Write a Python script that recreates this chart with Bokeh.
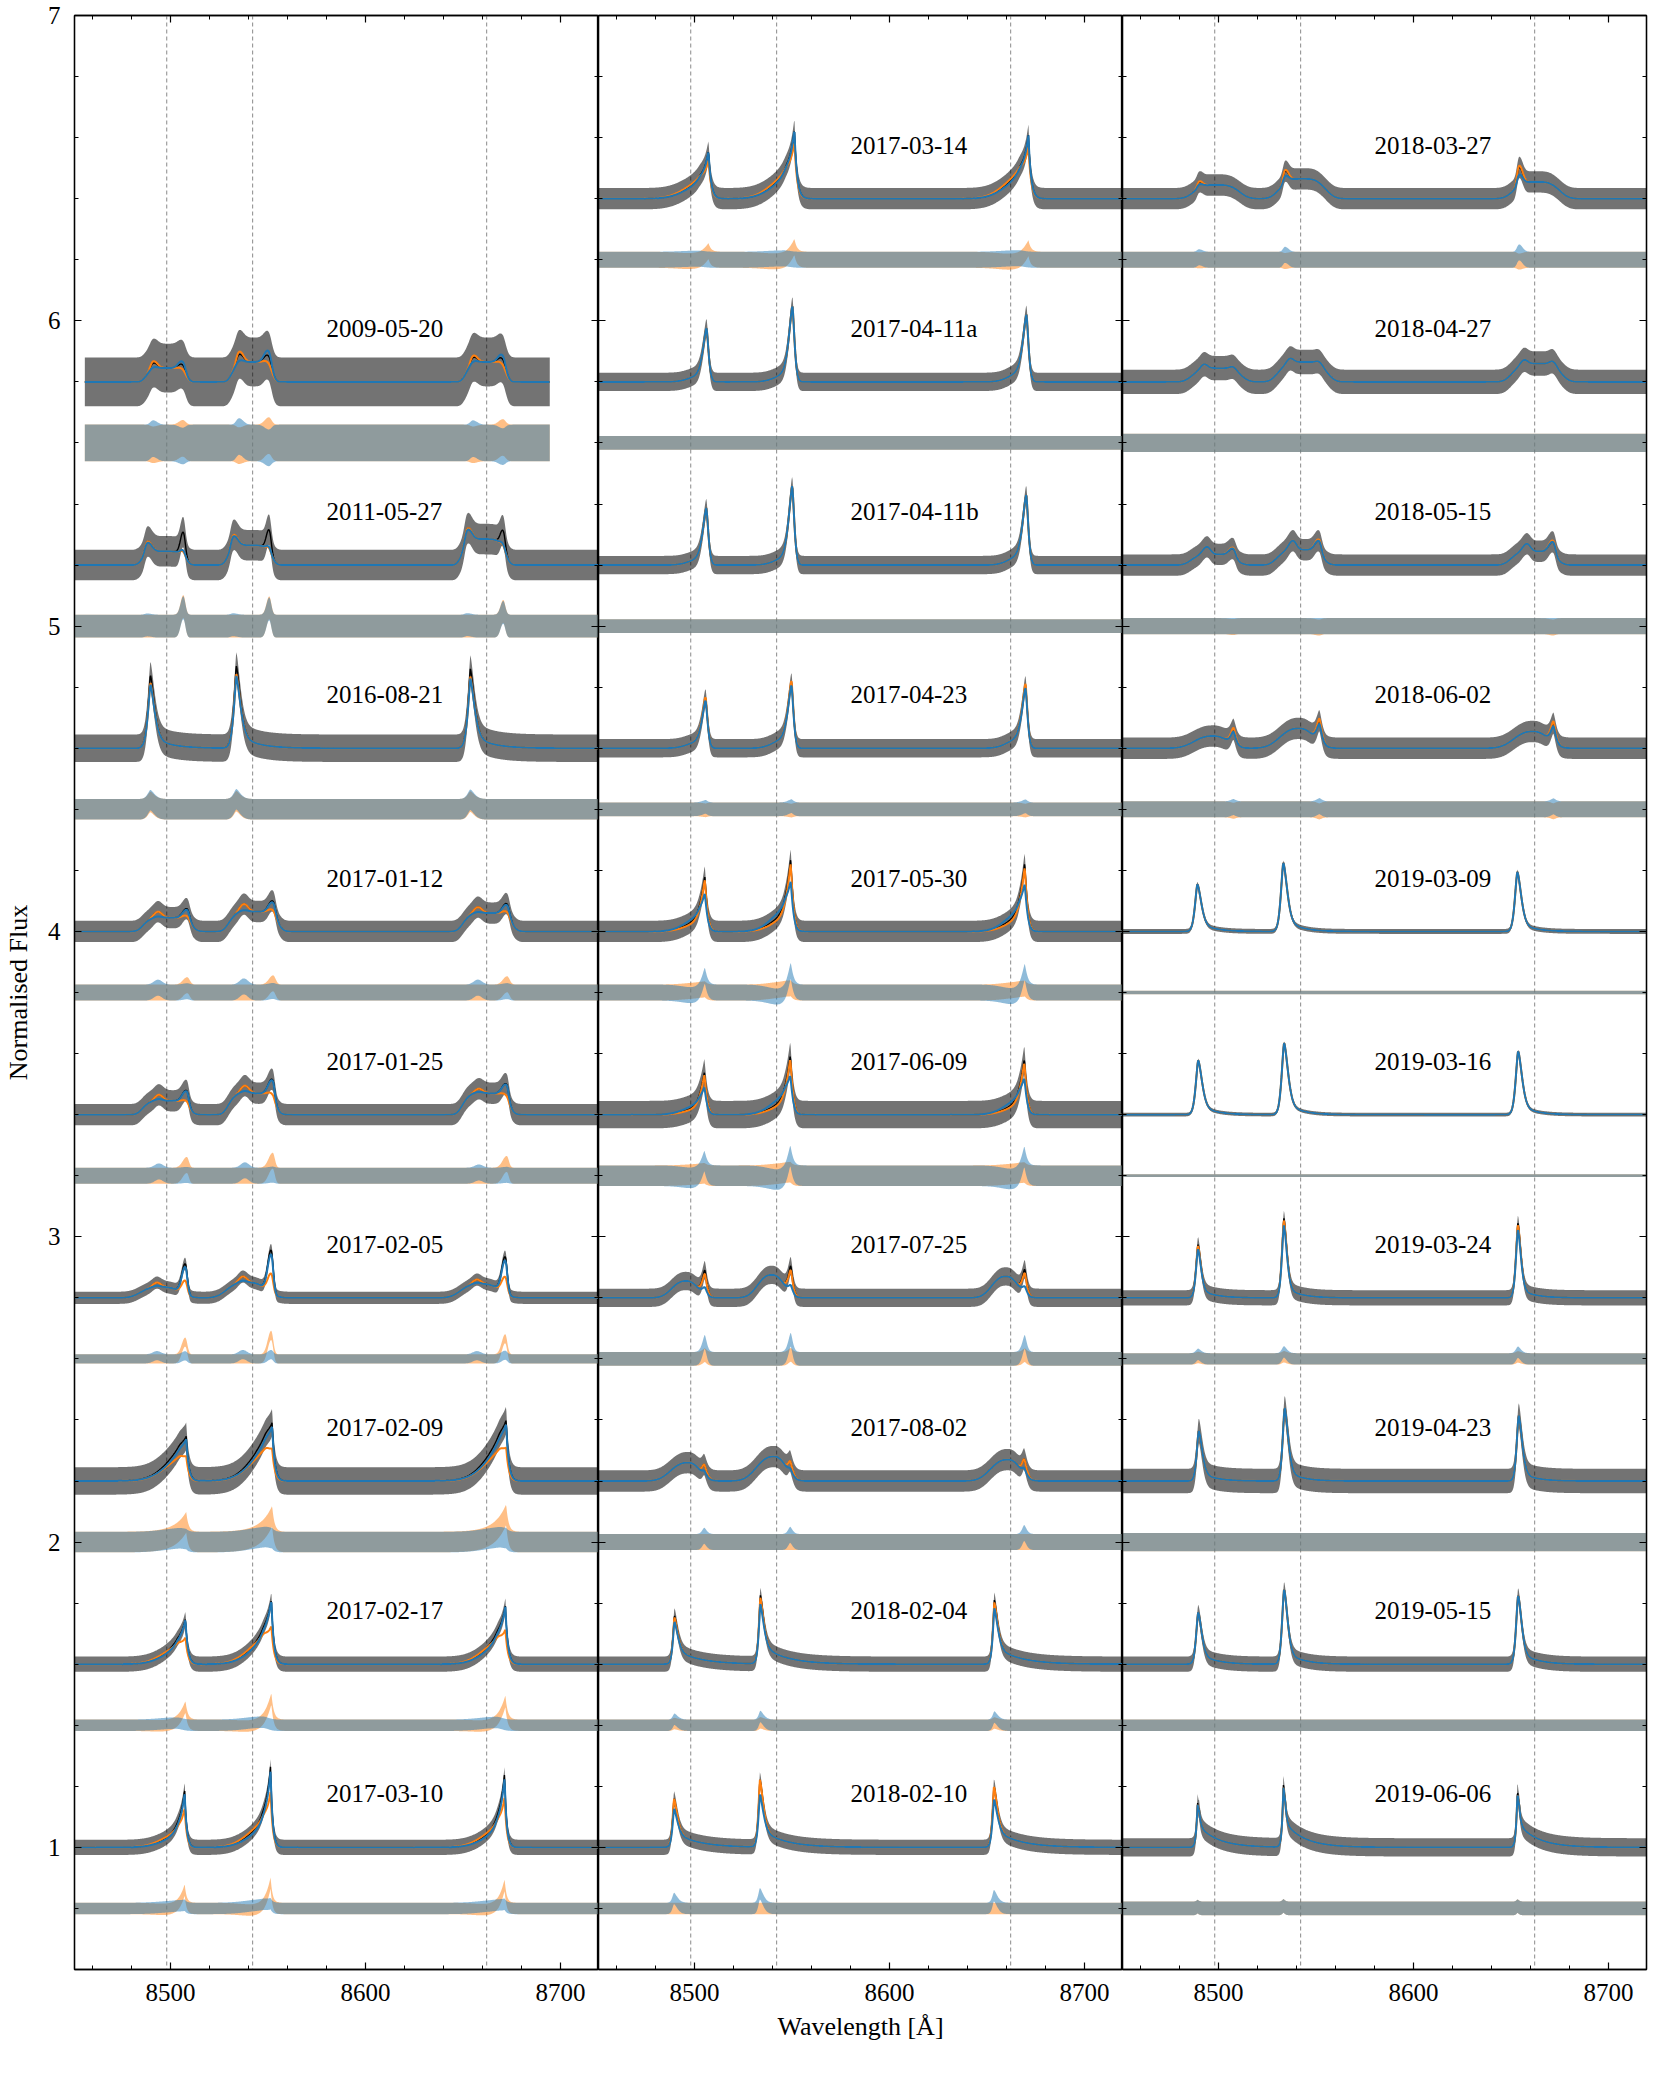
import numpy as np
from bokeh.plotting import figure
from bokeh.models import Range1d, LinearAxis, SingleIntervalTicker, Span
from bokeh.layouts import row
from bokeh.embed import file_html
from bokeh.resources import INLINE
from bokeh.core.properties import value

# ---------------- data ----------------
REST = [8498.02, 8542.09, 8662.14]          # Ca II triplet (dashed lines)

DATES = ["2009-05-20", "2011-05-27", "2016-08-21", "2017-01-12", "2017-01-25",
         "2017-02-05", "2017-02-09", "2017-02-17", "2017-03-10",
         "2017-03-14", "2017-04-11a", "2017-04-11b", "2017-04-23", "2017-05-30",
         "2017-06-09", "2017-07-25", "2017-08-02", "2018-02-04", "2018-02-10",
         "2018-03-27", "2018-04-27", "2018-05-15", "2018-06-02", "2019-03-09",
         "2019-03-16", "2019-03-24", "2019-04-23", "2019-05-15", "2019-06-06"]
PANEL = [0] * 9 + [1] * 10 + [2] * 10
OFFSET = [5.8, 5.2, 4.6, 4.0, 3.4, 2.8, 2.2, 1.6, 1.0,
          6.4, 5.8, 5.2, 4.6, 4.0, 3.4, 2.8, 2.2, 1.6, 1.0,
          6.4, 5.8, 5.2, 4.6, 4.0, 3.4, 2.8, 2.2, 1.6, 1.0]
NOISE = [0.08, 0.05, 0.045, 0.035, 0.035, 0.02, 0.045, 0.025, 0.025,
         0.035, 0.03, 0.03, 0.03, 0.035, 0.045, 0.03, 0.035, 0.025, 0.025,
         0.035, 0.04, 0.035, 0.035, 0.008, 0.006, 0.025, 0.04, 0.025, 0.03]
WAVE_START = [8456.0] + [8450.0] * 28
WAVE_END = [8694.5] + [8720.0] * 28

# emission components of each spectrum (same shape for the three lines)
SHIFT = [(-0.5, -7.0, 8.3), (-1.5, -10.0, 8.5), (-8.4, -8.4), (0.3, -4.5, 10.5),
         (-0.5, -4.0, 10.3), (-3.0, -5.0, 9.5), (10.0, 6.0), (9.6, 5.0), (9.2, 5.0),
         (9.1, 4.0), (8.1, 5.0), (8.0, 5.0), (7.6, 4.0), (7.2, 4.0), (7.0, 4.0),
         (7.2, -2.5), (6.9, -1.5), (-8.4, -8.4), (-8.6, -8.6),
         (1.0, -8.0), (1.0, -5.5, 9.5), (-0.5, -4.0, 9.5), (9.6, -1.0), (-8.9, -8.9),
         (-8.5, -8.5), (-8.6, -8.6), (-8.2, -8.2), (-8.5, -8.5), (-8.8, -8.0)]
WBLUE = [(10.5, 2.0, 3.0), (11.5, 1.8, 2.0), (2.0, 1.0), (13, 3, 3), (12.5, 3, 3),
         (12, 3, 2.5), (6, 12), (4, 12), (3, 12),
         (3.5, 12), (2.5, 8), (2.5, 8), (2.5, 8), (2.5, 10), (2.5, 10), (1.8, 9),
         (1.5, 11), (1.2, 1.0), (1.2, 1.0),
         (13, 1.5), (13.5, 2.5, 2.5), (12.5, 3, 3), (2, 12), (1.8, 1.5), (1.8, 1.5),
         (1.5, 1.5), (1.5, 1.5), (1.5, 1.5), (0.8, 0.8)]
WRED = [(10.5, 3.0, 2.0), (11.5, 3.0, 1.5), (3.0, 9.0), (13, 3, 1.8), (12.5, 3, 1.5),
        (12, 3, 1.5), (1.2, 4), (1.2, 4), (1.0, 4),
        (1.3, 4), (1.5, 3), (1.5, 3), (1.5, 3), (1.5, 3), (1.5, 3), (1.5, 8),
        (1.8, 8), (2.5, 12), (2.5, 12),
        (13, 2.5), (13.5, 2.5, 2.5), (12.5, 2.5, 1.8), (1.8, 10), (2.8, 9), (2.8, 9),
        (2.2, 9), (2.5, 9), (2.5, 10), (1.0, 10)]
POWER = [(5, 2, 2), (5, 2, 2), (1.5, 1), (5, 2, 2), (5, 2, 2), (3, 2, 2), (1, 2), (1, 2), (1, 2),
         (1, 2), (1.5, 2), (1.5, 2), (1.5, 2), (1.2, 2), (1.2, 2), (1.5, 2.5), (1.5, 2.5),
         (1.5, 1), (1.5, 1),
         (3.5, 2), (4, 2, 2), (4, 2, 2), (1.5, 2.5), (1.6, 1.2), (1.6, 1.2), (1.6, 1.2),
         (1.6, 1.2), (1.6, 1.2), (1.2, 1)]
AMP_8498 = [(0.045, 0.02, 0.025), (0.045, 0.04, 0.08), (0.2, 0.04), (0.045, 0.02, 0.04),
            (0.045, 0.02, 0.05), (0.035, 0.015, 0.1), (0.13, 0.045), (0.14, 0.035), (0.18, 0.03),
            (0.15, 0.035), (0.17, 0.02), (0.18, 0.02), (0.16, 0.02), (0.17, 0.03), (0.13, 0.02),
            (0.08, 0.055), (0.035, 0.06), (0.11, 0.05), (0.11, 0.05),
            (0.045, 0.02), (0.045, 0.015, 0.01), (0.035, 0.025, 0.03), (0.05, 0.04),
            (0.13, 0.025), (0.15, 0.028), (0.15, 0.025), (0.14, 0.025), (0.14, 0.03), (0.12, 0.07)]
AMP_8542 = [(0.065, 0.03, 0.04), (0.065, 0.045, 0.075), (0.22, 0.05), (0.065, 0.025, 0.05),
            (0.07, 0.025, 0.07), (0.05, 0.02, 0.14), (0.17, 0.06), (0.2, 0.05), (0.25, 0.05),
            (0.22, 0.045), (0.24, 0.025), (0.25, 0.025), (0.21, 0.03), (0.22, 0.045), (0.18, 0.035),
            (0.09, 0.075), (0.04, 0.08), (0.16, 0.065), (0.16, 0.06),
            (0.065, 0.04), (0.065, 0.015, 0.01), (0.05, 0.03, 0.045), (0.07, 0.065),
            (0.19, 0.035), (0.2, 0.035), (0.23, 0.03), (0.21, 0.03), (0.21, 0.035), (0.18, 0.08)]
AMP_8662 = [(0.065, 0.02, 0.03), (0.085, 0.05, 0.06), (0.21, 0.05), (0.06, 0.02, 0.045),
            (0.07, 0.015, 0.055), (0.045, 0.015, 0.12), (0.18, 0.055), (0.18, 0.045), (0.23, 0.04),
            (0.2, 0.05), (0.21, 0.03), (0.22, 0.03), (0.2, 0.03), (0.21, 0.04), (0.17, 0.03),
            (0.08, 0.07), (0.05, 0.07), (0.15, 0.06), (0.14, 0.06),
            (0.055, 0.06), (0.06, 0.015, 0.015), (0.045, 0.025, 0.045), (0.065, 0.055),
            (0.17, 0.025), (0.18, 0.028), (0.22, 0.025), (0.19, 0.025), (0.19, 0.035), (0.16, 0.075)]
# model amplitude relative to the observed one, per component
F_ORANGE = [(1, 1.3, 0.4), (1, 1.0, 0.2), (0.88, 1), (1, 1, 0.4), (1, 1, 0.3), (1, 1, 0.45),
            (0.5, 1), (0.55, 1.2), (0.65, 1.2),
            (0.8, 1.2), (1, 1), (1, 1), (1.02, 1), (0.95, 0.8), (0.95, 0.8), (0.85, 1), (1, 1),
            (0.95, 1), (1.0, 1),
            (1, 1.1), (1, 1, 1), (1, 1, 1.1), (1.1, 1), (1, 1), (1, 1), (0.97, 1), (1, 1),
            (1, 1), (0.95, 1)]
F_BLUE = [(1, 0.3, 1.4), (1, 0.9, 0.25), (0.85, 1), (1, 0.2, 0.9), (1, 0.3, 0.95), (1, 0.3, 0.9),
          (0.95, 0.8), (1.0, 0.8), (0.95, 0.8),
          (1.0, 0.9), (1, 1), (1, 1), (0.95, 1), (0.65, 1.4), (0.6, 1.5), (0.3, 1), (0.4, 1),
          (0.82, 1), (0.7, 1),
          (1, 0.6), (1, 1, 1), (1, 1, 1), (0.85, 1), (1, 1), (1, 1), (0.9, 1), (1, 1),
          (1, 1), (0.95, 1)]

TICK_X = 100
TICK_Y = 1
XLABEL = "Wavelength [Å]"
YLABEL = "Normalised Flux"

# ---------------- styling ----------------
FONT = "Liberation Serif"
ORANGE = "#ff7f0e"
BLUE = "#1f77b4"
XR = (8450.7, 8719.5)
YR = (0.6, 7.0)
LABEL_X = 8580.0
LABEL_DY = 0.175
RESID_DY = -0.2


def profile(i, wl, kind):
    y = np.zeros_like(wl)
    amps = (AMP_8498[i], AMP_8542[i], AMP_8662[i])
    for k in range(len(SHIFT[i])):
        if kind == "obs":
            f = 1.0
        elif kind == "orange":
            f = F_ORANGE[i][k]
        else:
            f = F_BLUE[i][k]
        for rest, a in zip(REST, amps):
            u = wl - (rest + SHIFT[i][k])
            w = np.where(u < 0, WBLUE[i][k], WRED[i][k])
            y += f * a[k] * np.exp(-(np.abs(u) / w) ** POWER[i][k])
    return y


def style_axis(ax, show_labels):
    ax.axis_line_color = "black"
    ax.axis_line_width = 1.3
    ax.major_tick_line_color = "black"
    ax.minor_tick_line_color = "black"
    ax.major_tick_line_width = 1.2
    ax.minor_tick_line_width = 1.0
    ax.major_tick_in = 7
    ax.major_tick_out = 0
    ax.minor_tick_in = 4
    ax.minor_tick_out = 0
    ax.major_label_text_font = FONT
    ax.axis_label_text_font = FONT
    ax.axis_label_text_font_style = "normal"
    ax.axis_label_text_font_size = "26px"
    ax.axis_label_text_color = "black"
    ax.major_label_text_color = "black"
    if show_labels:
        ax.major_label_text_font_size = "25px"
    else:
        ax.major_label_text_font_size = "0px"
        ax.major_label_standoff = 0


figs = []
for k in range(3):
    p = figure(frame_width=524, frame_height=1954,
               x_range=Range1d(*XR), y_range=Range1d(*YR),
               output_backend="svg", toolbar_location=None,
               x_axis_location=None, y_axis_location=None,
               min_border_left=69 if k == 0 else 0,
               min_border_right=0 if k < 2 else 6,
               min_border_top=15, min_border_bottom=90)
    p.grid.visible = False
    p.outline_line_color = "black"
    p.outline_line_width = 1.3
    p.background_fill_color = "white"
    p.border_fill_color = "white"

    # axes
    xb = LinearAxis(ticker=SingleIntervalTicker(interval=TICK_X, num_minor_ticks=5))
    style_axis(xb, True)
    xb.major_label_standoff = 14
    if k == 1:
        xb.axis_label = XLABEL
        xb.axis_label_standoff = 8
    p.add_layout(xb, "below")
    xt = LinearAxis(ticker=SingleIntervalTicker(interval=TICK_X, num_minor_ticks=5))
    style_axis(xt, False)
    p.add_layout(xt, "above")
    yl = LinearAxis(ticker=SingleIntervalTicker(interval=TICK_Y, num_minor_ticks=5))
    style_axis(yl, k == 0)
    if k == 0:
        yl.axis_label = YLABEL
        yl.major_label_standoff = 14
        yl.axis_label_standoff = 12
    p.add_layout(yl, "left")
    yr = LinearAxis(ticker=SingleIntervalTicker(interval=TICK_Y, num_minor_ticks=5))
    style_axis(yr, False)
    p.add_layout(yr, "right")

    for rest in REST:
        p.add_layout(Span(location=rest, dimension="height", line_color="#8a8a8a",
                          line_dash="4 3", line_width=1, level="underlay"))

    idx = [i for i in range(len(DATES)) if PANEL[i] == k]
    for i in idx:
        wl = np.arange(WAVE_START[i], WAVE_END[i] + 1e-6, 0.25)
        base = OFFSET[i]
        n = NOISE[i]
        obs = profile(i, wl, "obs")
        mo = profile(i, wl, "orange")
        mb = profile(i, wl, "blue")
        # residuals (data - model), offset below the spectrum
        ro = base + RESID_DY + obs - mo
        rb = base + RESID_DY + obs - mb
        p.varea(x=wl, y1=ro - 0.75 * n, y2=ro + 0.75 * n, fill_color=ORANGE, fill_alpha=0.5)
        p.varea(x=wl, y1=rb - 0.75 * n, y2=rb + 0.75 * n, fill_color=BLUE, fill_alpha=0.5)
        # observed spectrum: profile with its noise level
        p.varea(x=wl, y1=base + obs - n, y2=base + obs + n, fill_color="black", fill_alpha=0.55)
        p.line(wl, base + obs, line_color="black", line_width=1.4)
        p.line(wl, base + mo, line_color=ORANGE, line_width=2)
        p.line(wl, base + mb, line_color=BLUE, line_width=2)

    p.text(x=[LABEL_X] * len(idx), y=[OFFSET[i] + LABEL_DY for i in idx],
           text=[DATES[i] for i in idx], text_font=value(FONT), text_font_size="25px",
           text_baseline="middle", text_align="left", text_color="black")
    figs.append(p)

layout = row(*figs)
open("out.html", "w").write(file_html(layout, INLINE))
